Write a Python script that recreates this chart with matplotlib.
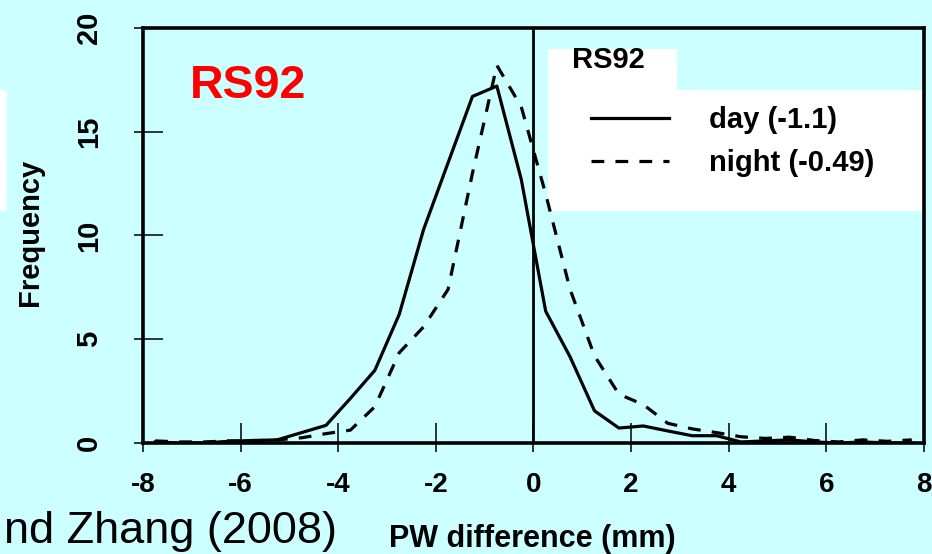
import matplotlib
matplotlib.use("Agg")
import matplotlib.pyplot as plt
from matplotlib.patches import Rectangle

plt.rcParams["font.family"] = ["Liberation Sans", "DejaVu Sans"]

# bin centres of the PW-difference histogram (mm)
pw_bins = [-7.75, -7.25, -6.75, -6.25, -5.75, -5.25, -4.75, -4.25,
           -3.75, -3.25, -2.75, -2.25, -1.75, -1.25, -0.75, -0.25,
           0.25, 0.75, 1.25, 1.75, 2.25, 2.75, 3.25, 3.75,
           4.25, 4.75, 5.25, 5.75, 6.25, 6.75, 7.25, 7.75]
# frequency, RS92 day soundings (mean -1.1)
freq_day = [0.05, 0.0, 0.0, 0.08, 0.12, 0.15, 0.5, 0.85,
            2.15, 3.5, 6.2, 10.3, 13.5, 16.7, 17.2, 12.7,
            6.35, 4.15, 1.55, 0.72, 0.82, 0.58, 0.35, 0.35,
            0.05, 0.1, 0.15, 0.05, 0.0, 0.05, 0.0, 0.0]
# frequency, RS92 night soundings (mean -0.49)
freq_night = [0.1, 0.05, 0.05, 0.1, 0.1, 0.15, 0.25, 0.45,
              0.62, 1.75, 4.35, 5.6, 7.4, 13.0, 18.2, 16.2,
              12.0, 7.4, 4.2, 2.35, 1.85, 0.95, 0.68, 0.5,
              0.3, 0.22, 0.28, 0.12, 0.05, 0.15, 0.08, 0.15]
labels = ["day (-1.1)", "night (-0.49)"]
x_ticks = [-8, -6, -4, -2, 0, 2, 4, 6, 8]
y_ticks = [0, 5, 10, 15, 20]

bg = "#CCFFFF"
fig = plt.figure(figsize=(9.32, 5.54), dpi=100, facecolor=bg)
ax = fig.add_axes([0.1534, 0.2004, 0.8380, 0.7491])
ax.set_facecolor(bg)

# white boxes behind the legend (pasted slide look)
ax.add_patch(Rectangle((0.5186, 0.559), 0.4814, 0.2916, transform=ax.transAxes,
                       facecolor="white", edgecolor="none", zorder=1))
ax.add_patch(Rectangle((0.5186, 0.8506), 0.1651, 0.0984, transform=ax.transAxes,
                       facecolor="white", edgecolor="none", zorder=1))
fig.patches.append(Rectangle((0.0, 0.619), 0.0075, 0.2185, transform=fig.transFigure,
                             facecolor="white", edgecolor="none"))

l_day, = ax.plot(pw_bins, freq_day, color="black", lw=2.3, zorder=3)
l_night, = ax.plot(pw_bins, freq_night, color="black", lw=2.3, dashes=(4, 3.5), zorder=3)
ax.axvline(0, color="black", lw=2.0, zorder=2)

ax.set_xlim(-8, 8)
ax.set_ylim(0, 20)
ax.set_xticks(x_ticks)
ax.set_yticks(y_ticks)
ax.set_xticklabels([str(v) for v in x_ticks], fontsize=20, fontweight="bold")
ax.set_yticklabels([str(v) for v in y_ticks], fontsize=21, fontweight="bold",
                   rotation=90, va="center")
# inward major ticks plus short outward stubs at the same spots
ax.set_xticks(x_ticks, minor=True)
ax.set_yticks(y_ticks, minor=True)
ax.xaxis.remove_overlapping_locs = False
ax.yaxis.remove_overlapping_locs = False
ax.tick_params(which="major", direction="in", length=14.4, width=1.1, color="black")
ax.tick_params(which="minor", direction="out", length=6.3, width=1.1, color="black")
ax.tick_params(axis="x", which="major", pad=21)
ax.tick_params(axis="y", which="major", pad=29)
ax.tick_params(top=False, right=False, which="both")
for s in ax.spines.values():
    s.set_linewidth(2.6)

ax.set_ylabel("Frequency", fontsize=21, fontweight="bold", va="baseline")
ax.yaxis.set_label_coords(-0.1345, 0.508)
ax.set_xlabel("PW difference (mm)", fontsize=22, fontweight="bold",
              ha="left", va="baseline")
ax.xaxis.set_label_coords(0.315, -0.25)

ax.text(0.134, 0.831, "RS92", transform=ax.transAxes, ha="center", va="baseline",
        color="red", fontsize=33.5, fontweight="bold", zorder=4)
ax.text(0.549, 0.903, "RS92", transform=ax.transAxes, ha="left", va="baseline",
        fontsize=21, fontweight="bold", zorder=4)

leg = ax.legend([l_day, l_night], labels, loc="upper left",
                bbox_to_anchor=(0.5544, 0.846), frameon=False, borderpad=0,
                handlelength=2.7, handletextpad=1.37, labelspacing=0.5,
                prop={"size": 21, "weight": "bold"})
leg.set_zorder(4)

fig.text(337 / 932, 0.0204, "nd Zhang (2008)", ha="right", va="baseline", fontsize=32.5)

fig.savefig("out.png", dpi=100, facecolor=bg)
